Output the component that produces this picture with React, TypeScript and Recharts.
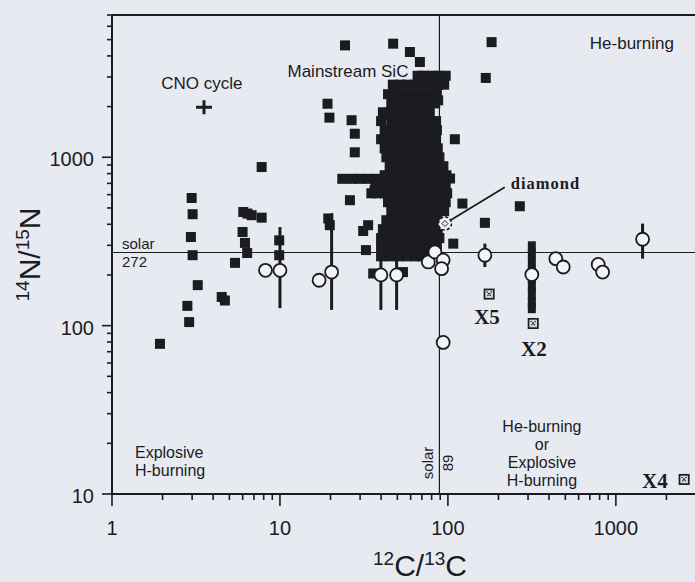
import {
  ErrorBar,
  Label,
  ReferenceDot,
  ReferenceLine,
  Scatter,
  ScatterChart,
  XAxis,
  YAxis,
} from 'recharts'

const ink = '#1b1b22'
const paper = '#e8eaf2'
const hole = '#f3f4f8'
const sans = '"Liberation Sans", Arial, Helvetica, sans-serif'
const serif = '"Liberation Serif", "Times New Roman", serif'

// axis ticks (log-log)
const xTicks = [1, 2, 3, 4, 5, 6, 7, 8, 9, 10, 20, 30, 40, 50, 60, 70, 80, 90, 100, 200, 300, 400, 500, 600, 700, 800, 900, 1000, 2000]
const xLabels = [1, 10, 100, 1000]
const yTicks = [10, 20, 30, 40, 50, 60, 70, 80, 90, 100, 200, 300, 400, 500, 600, 700, 800, 900, 1000, 2000, 3000, 4000, 5000, 6000, 7000]
const yLabels = [10, 100, 1000]

const solarC = 89
const solarN = 272

// mainstream SiC grains, the dense part: [14N/15N, list of 12C/13C]
const clusterRows: [number, number[]][] = [
  [3050, [66, 72, 80, 88, 97]],
  [2700, [47, 52, 57, 64, 71, 79, 88, 95]],
  [2370, [44, 48, 53, 58, 64, 71, 79, 86]],
  [2090, [46, 51, 57, 64, 71, 77, 84]],
  [1850, [41, 45, 51, 57, 64, 71, 78]],
  [1640, [40, 46, 51, 57, 64, 71, 79, 85]],
  [1450, [42, 46, 51, 57, 64, 71, 79, 86]],
  [1280, [40, 45, 51, 57, 64, 71, 79, 85]],
  [1130, [42, 46, 51, 57, 64, 71, 79, 87]],
  [1000, [43, 47, 52, 57, 64, 71, 79, 89]],
  [885, [45, 51, 57, 64, 71, 79, 88, 94]],
  [782, [42, 46, 51, 57, 64, 71, 79, 88, 98]],
  [745, [23.5, 26.5, 29.5, 33, 37]],
  [692, [37, 41, 46, 51, 57, 64, 71, 79, 88, 97]],
  [611, [35, 38, 42, 46, 51, 57, 64, 71, 79, 88, 99]],
  [541, [44, 47, 52, 57, 64, 71, 79, 88, 97]],
  [478, [46, 51, 57, 64, 71, 79, 87, 95]],
  [423, [43, 47, 52, 57, 64, 71, 79, 86]],
  [374, [41, 46, 51, 57, 64, 71, 79, 87]],
  [331, [40, 45, 51, 57, 64, 71, 79, 89]],
  [292, [40, 45, 51, 57, 64, 71, 79, 86]],
  [258, [40, 45, 51, 57, 64, 70, 77]],
]

// single SiC grains outside the dense part: [12C/13C, 14N/15N]
const sicGrains: [number, number][] = [
  [1.93, 78], [2.81, 131], [2.88, 105], [2.98, 573], [3.02, 459], [2.95, 336], [3.02, 262],
  [3.24, 174], [4.5, 148], [4.7, 141], [5.4, 236], [6.05, 473], [6.4, 463], [6.78, 453],
  [7.78, 438], [5.99, 360], [6.19, 310], [6.38, 270], [7.78, 875], [9.9, 321], [9.9, 262],
  [19.2, 2080], [19.7, 1720], [19.4, 433], [19.8, 395], [24.4, 4620], [26.7, 1660],
  [27.9, 1380], [27.9, 1070], [26.1, 556], [31.3, 365], [33.5, 395], [32.5, 281], [35.9, 204],
  [54, 208], [42.2, 1780], [36.6, 637], [47.2, 4730], [59.4, 4220], [68.1, 3680], [93.7, 2930],
  [87.5, 2180], [110, 1280], [103, 748], [122, 531], [268, 512], [166, 408], [107.6, 307],
  [168, 2960], [182, 4830],
]

// column of grains at 12C/13C ~ 316
const stackC = 316
const stackN = [296, 266, 238, 213, 191, 171, 154, 138, 127]

// graphite grains with errors: [12C/13C, 14N/15N, err low, err high]
const graphiteErr: [number, number, number, number][] = [
  [10, 213, 86, 172], [20.3, 208, 84, 257], [39.9, 200, 76, 185], [49.5, 200, 76, 185],
  [166, 262, 39, 45], [1442, 326, 76, 78],
]
const graphite: [number, number][] = [
  [8.2, 213], [17.1, 186], [76.4, 239], [83.7, 274], [93.7, 245], [91.7, 218], [93.7, 79.5],
  [316, 201], [439, 250], [486, 223], [785, 231], [834, 208],
]

const diamond: [number, number][] = [[96, 404]]
const typeX: [number, number][] = [[176, 154], [322, 103], [2550, 12.2]]
const cnoCycle: [number, number][] = [[3.53, 1980]]

const clusterData = clusterRows.flatMap(([n, cs]) => cs.map((c) => ({ c, n })))
const toPts = (arr: [number, number][]) => arr.map(([c, n]) => ({ c, n }))
const stackData = stackN.map((n) => ({ c: stackC, n }))
const errData = graphiteErr.map(([c, n, lo, hi]) => ({ c, n, err: [lo, hi] }))

const SquareMark = (props: any) => (
  <rect x={props.cx - 5} y={props.cy - 5} width={10} height={10} fill={ink} />
)
const StackMark = (props: any) => (
  <rect x={props.cx - 4} y={props.cy - 5} width={8} height={10} fill={ink} />
)
const CircleMark = (props: any) => (
  <circle cx={props.cx} cy={props.cy} r={6.5} fill={hole} stroke={ink} strokeWidth={1.8} />
)
const DiamondMark = (props: any) => (
  <g>
    <circle cx={props.cx} cy={props.cy} r={6.5} fill={hole} stroke={ink} strokeWidth={1.6} strokeDasharray="3 2" />
    <path
      d={`M${props.cx},${props.cy - 3}L${props.cx + 3},${props.cy}L${props.cx},${props.cy + 3}L${props.cx - 3},${props.cy}Z`}
      fill="none"
      stroke={ink}
      strokeWidth={1}
    />
  </g>
)
const XMark = (props: any) => {
  const { cx, cy } = props
  return (
    <g>
      <rect x={cx - 5.5} y={cy - 5.5} width={11} height={11} fill={ink} />
      <rect x={cx - 3.8} y={cy - 3.8} width={7.6} height={7.6} fill="#dcdee6" />
      <path
        d={`M${cx - 2.5},${cy - 2.5}L${cx + 2.5},${cy + 2.5}M${cx + 2.5},${cy - 2.5}L${cx - 2.5},${cy + 2.5}`}
        stroke={ink}
        strokeWidth={1.3}
        strokeDasharray="1.3 1"
      />
    </g>
  )
}
const PlusMark = (props: any) => (
  <path
    d={`M${props.cx - 8},${props.cy}H${props.cx + 8}M${props.cx},${props.cy - 7}V${props.cy + 7}`}
    stroke={ink}
    strokeWidth={3}
  />
)

function XTick(props: any) {
  const { x, y, payload } = props
  const major = xLabels.includes(payload.value)
  return (
    <g>
      <line x1={x} y1={y} x2={x} y2={y + (major ? 12 : 6)} stroke={ink} strokeWidth={1.6} />
      {major && (
        <text x={x} y={y + 41} textAnchor="middle" fill={ink} fontFamily={sans} fontSize={20}>
          {payload.value}
        </text>
      )}
    </g>
  )
}

function YTick(props: any) {
  const { x, y, payload } = props
  const major = yLabels.includes(payload.value)
  return (
    <g>
      <line x1={x} y1={y} x2={x - (major ? 10 : 5)} y2={y} stroke={ink} strokeWidth={1.6} />
      {major && (
        <text x={x - 18} y={y + 9} textAnchor="end" fill={ink} fontFamily={sans} fontSize={20}>
          {payload.value}
        </text>
      )}
    </g>
  )
}

function note(
  lines: string[],
  opts: { anchor?: string; size?: number; bold?: boolean; font?: string; lh?: number; spacing?: number } = {},
) {
  const size = opts.size ?? 17
  const lh = opts.lh ?? size * 1.05
  return (props: any) => (
    <text
      x={props.cx}
      y={props.cy - ((lines.length - 1) * lh) / 2 + size * 0.36}
      textAnchor={(opts.anchor ?? 'middle') as any}
      fill={ink}
      fontFamily={opts.font ?? sans}
      fontWeight={opts.bold ? 'bold' : 'normal'}
      fontSize={size}
      letterSpacing={opts.spacing ?? 0}
    >
      {lines.map((l, i) => (
        <tspan key={i} x={props.cx} dy={i === 0 ? 0 : lh}>
          {l}
        </tspan>
      ))}
    </text>
  )
}

export default function App() {
  return (
    <div style={{ position: 'absolute', left: 0, top: 0, width: 695, height: 582, overflow: 'hidden', background: paper }}>
      <ScatterChart width={700} height={582} margin={{ top: 15, right: 4, bottom: 0, left: 0 }}>
        <XAxis
          dataKey="c"
          type="number"
          scale="log"
          domain={[1, 3000]}
          allowDataOverflow
          ticks={xTicks}
          interval={0}
          tick={<XTick />}
          tickLine={false}
          tickSize={0}
          tickMargin={0}
          height={88}
          axisLine={{ stroke: ink, strokeWidth: 2 }}
        >
          <Label
            content={(p: any) => {
              const vb = p.viewBox
              const cx = vb.x + vb.width / 2 + 16
              const cy = vb.y + 82
              return (
                <text x={cx} y={cy} textAnchor="middle" fill={ink} fontFamily={sans} fontSize={30}>
                  <tspan fontSize={19} dy={-11}>12</tspan>
                  <tspan dy={11}>C/</tspan>
                  <tspan fontSize={19} dy={-11}>13</tspan>
                  <tspan dy={11}>C</tspan>
                </text>
              )
            }}
          />
        </XAxis>
        <YAxis
          dataKey="n"
          type="number"
          scale="log"
          domain={[10, 7000]}
          allowDataOverflow
          ticks={yTicks}
          interval={0}
          tick={<YTick />}
          tickLine={false}
          tickSize={0}
          tickMargin={0}
          width={112}
          axisLine={{ stroke: ink, strokeWidth: 2 }}
        >
          <Label
            content={(p: any) => {
              const vb = p.viewBox
              const cx = 40
              const cy = vb.y + vb.height / 2
              return (
                <text
                  x={cx}
                  y={cy}
                  transform={`rotate(-90 ${cx} ${cy})`}
                  textAnchor="middle"
                  fill={ink}
                  fontFamily={sans}
                  fontSize={30}
                >
                  <tspan fontSize={19} dy={-11}>14</tspan>
                  <tspan dy={11}>N/</tspan>
                  <tspan fontSize={19} dy={-11}>15</tspan>
                  <tspan dy={11}>N</tspan>
                </text>
              )
            }}
          />
        </YAxis>

        <ReferenceLine y={7000} stroke={ink} strokeWidth={2} />
        <ReferenceLine y={solarN} stroke={ink} strokeWidth={1.2} />
        <ReferenceLine x={solarC} stroke={ink} strokeWidth={1.2} />
        <ReferenceLine
          segment={[
            { x: 99, y: 411 },
            { x: 218, y: 664 },
          ]}
          stroke={ink}
          strokeWidth={1.8}
        />

        <Scatter data={clusterData} shape={SquareMark} isAnimationActive={false} />
        <Scatter data={toPts(sicGrains)} shape={SquareMark} isAnimationActive={false} />
        <Scatter data={stackData} shape={StackMark} isAnimationActive={false} />
        <Scatter data={errData} shape={CircleMark} isAnimationActive={false}>
          <ErrorBar dataKey="err" direction="y" width={0} stroke={ink} strokeWidth={3} />
        </Scatter>
        <Scatter data={toPts(graphite)} shape={CircleMark} isAnimationActive={false} />
        <Scatter data={toPts(diamond)} shape={DiamondMark} isAnimationActive={false} />
        <Scatter data={toPts(typeX)} shape={XMark} isAnimationActive={false} />
        <Scatter data={toPts(cnoCycle)} shape={PlusMark} isAnimationActive={false} />

        <ReferenceDot x={3.43} y={2750} r={0} shape={note(['CNO cycle'])} />
        <ReferenceDot x={25.4} y={3280} r={0} shape={note(['Mainstream SiC'])} />
        <ReferenceDot x={1245} y={4750} r={0} shape={note(['He-burning'])} />
        <ReferenceDot x={1.37} y={15.7} r={0} shape={note(['Explosive', 'H-burning'], { anchor: 'start', size: 16, lh: 18 })} />
        <ReferenceDot x={363} y={17.5} r={0} shape={note(['He-burning', 'or', 'Explosive', 'H-burning'], { size: 16, lh: 17.8 })} />
        <ReferenceDot x={1.147} y={solarN} r={0} shape={note(['solar', '272'], { anchor: 'start', size: 15, lh: 18 })} />
        <ReferenceDot
          x={solarC}
          y={15.3}
          r={0}
          shape={(p: any) => (
            <g fill={ink} fontFamily={sans} fontSize={15}>
              <text x={p.cx - 6} y={p.cy} textAnchor="middle" transform={`rotate(-90 ${p.cx - 6} ${p.cy})`}>solar</text>
              <text x={p.cx + 14} y={p.cy} textAnchor="middle" transform={`rotate(-90 ${p.cx + 14} ${p.cy})`}>89</text>
            </g>
          )}
        />
        <ReferenceDot x={237} y={702} r={0} shape={note(['diamond'], { anchor: 'start', size: 16.5, bold: true, font: serif, spacing: 1 })} />
        <ReferenceDot x={171} y={114} r={0} shape={note(['X5'], { size: 21, bold: true, font: serif })} />
        <ReferenceDot x={325} y={73.5} r={0} shape={note(['X2'], { size: 21, bold: true, font: serif })} />
        <ReferenceDot x={1707} y={12.1} r={0} shape={note(['X4'], { size: 21, bold: true, font: serif })} />
      </ScatterChart>
    </div>
  )
}
